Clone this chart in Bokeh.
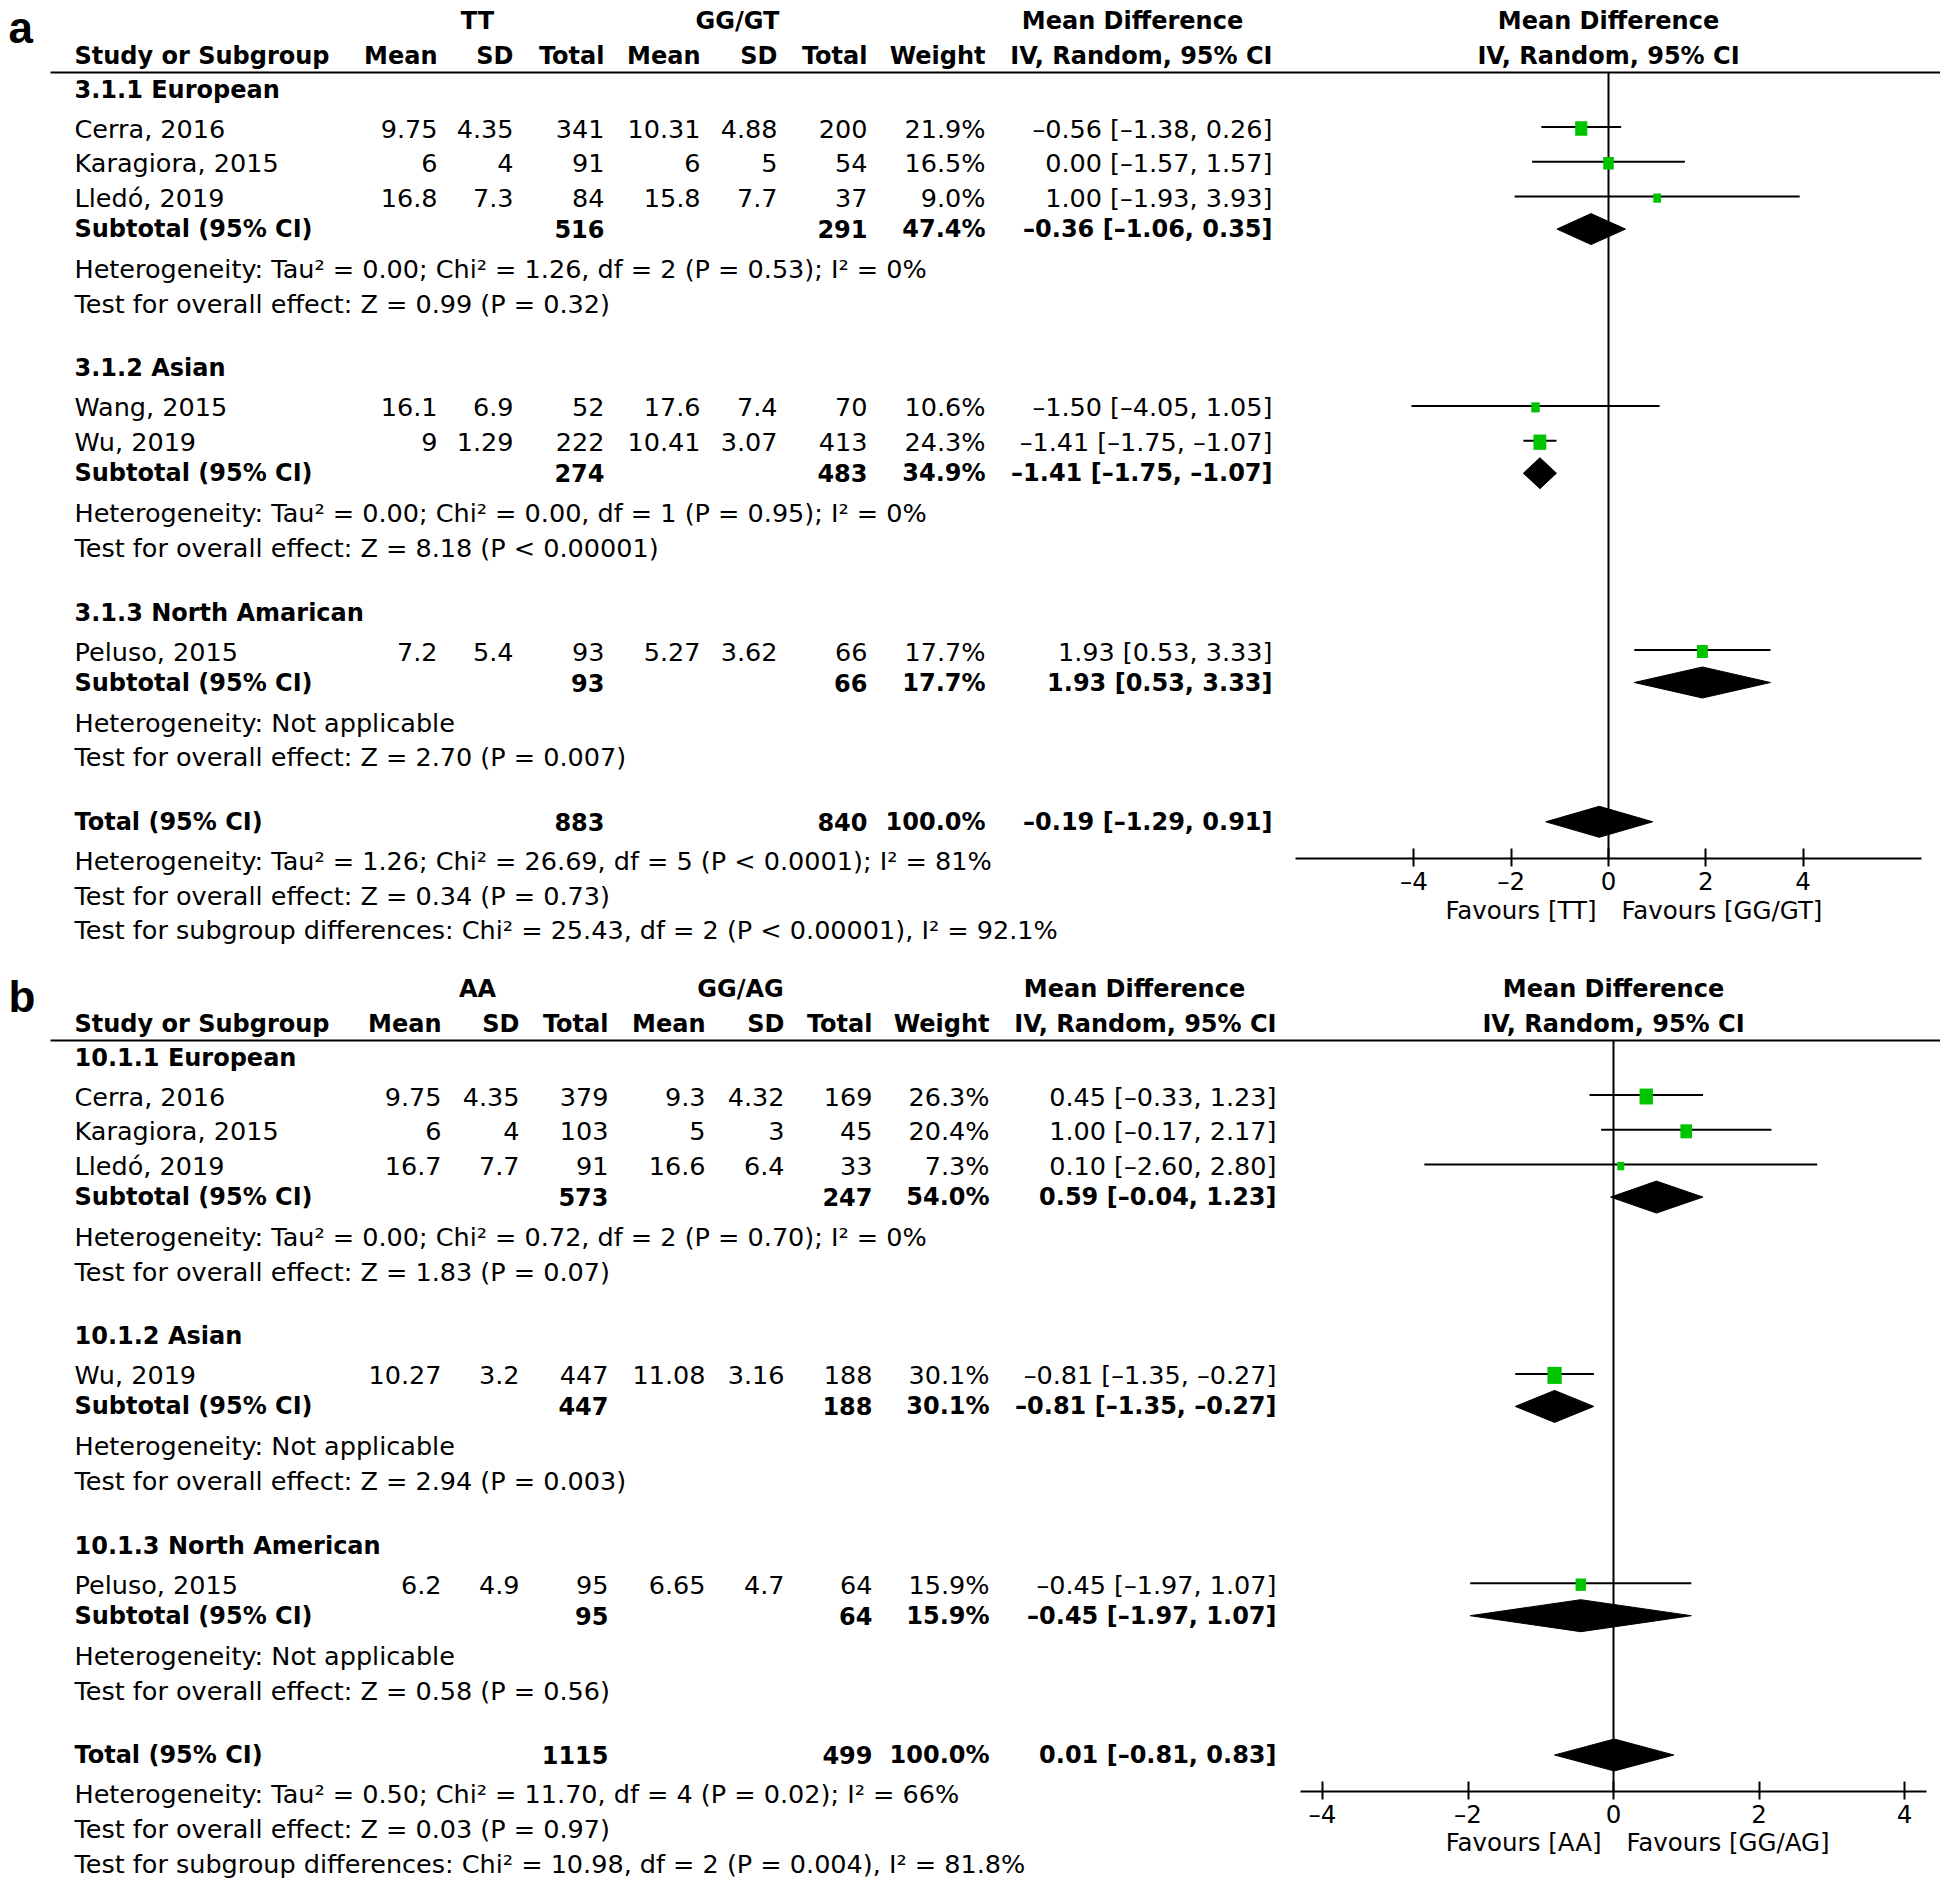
import math
from bokeh.plotting import figure
from bokeh.models import ColumnDataSource, Range1d, FixedTicker, LinearAxis
from bokeh.core.properties import value
from bokeh.embed import file_html
from bokeh.resources import INLINE

# ---------------- data: panel a ----------------
A_LETTER = "a"
A_ARMS = ["TT", "GG/GT"]
A_GROUPS = ["3.1.1 European", "3.1.2 Asian", "3.1.3 North Amarican"]
A_STUDIES = ["Cerra, 2016", "Karagiora, 2015", "Lledó, 2019", "Wang, 2015", "Wu, 2019", "Peluso, 2015"]
A_STUDY_GROUP = [0, 0, 0, 1, 1, 2]
A_MEAN1 = [9.75, 6, 16.8, 16.1, 9, 7.2]
A_SD1 = [4.35, 4, 7.3, 6.9, 1.29, 5.4]
A_N1 = [341, 91, 84, 52, 222, 93]
A_MEAN2 = [10.31, 6, 15.8, 17.6, 10.41, 5.27]
A_SD2 = [4.88, 5, 7.7, 7.4, 3.07, 3.62]
A_N2 = [200, 54, 37, 70, 413, 66]
A_WEIGHT = [21.9, 16.5, 9.0, 10.6, 24.3, 17.7]
A_MD = [-0.56, 0.00, 1.00, -1.50, -1.41, 1.93]
A_LO = [-1.38, -1.57, -1.93, -4.05, -1.75, 0.53]
A_HI = [0.26, 1.57, 3.93, 1.05, -1.07, 3.33]
A_SUB_N1 = [516, 274, 93]
A_SUB_N2 = [291, 483, 66]
A_SUB_W = [47.4, 34.9, 17.7]
A_SUB_MD = [-0.36, -1.41, 1.93]
A_SUB_LO = [-1.06, -1.75, 0.53]
A_SUB_HI = [0.35, -1.07, 3.33]
A_SUB_HET = ["Heterogeneity: Tau² = 0.00; Chi² = 1.26, df = 2 (P = 0.53); I² = 0%",
             "Heterogeneity: Tau² = 0.00; Chi² = 0.00, df = 1 (P = 0.95); I² = 0%",
             "Heterogeneity: Not applicable"]
A_SUB_TEST = ["Test for overall effect: Z = 0.99 (P = 0.32)",
              "Test for overall effect: Z = 8.18 (P < 0.00001)",
              "Test for overall effect: Z = 2.70 (P = 0.007)"]
A_TOT_N1 = 883
A_TOT_N2 = 840
A_TOT_W = 100.0
A_TOT_MD = -0.19
A_TOT_LO = -1.29
A_TOT_HI = 0.91
A_TOT_NOTES = ["Heterogeneity: Tau² = 1.26; Chi² = 26.69, df = 5 (P < 0.0001); I² = 81%",
               "Test for overall effect: Z = 0.34 (P = 0.73)",
               "Test for subgroup differences: Chi² = 25.43, df = 2 (P < 0.00001), I² = 92.1%"]
A_FAVOURS = ["Favours [TT]", "Favours [GG/GT]"]

# ---------------- data: panel b ----------------
B_LETTER = "b"
B_ARMS = ["AA", "GG/AG"]
B_GROUPS = ["10.1.1 European", "10.1.2 Asian", "10.1.3 North American"]
B_STUDIES = ["Cerra, 2016", "Karagiora, 2015", "Lledó, 2019", "Wu, 2019", "Peluso, 2015"]
B_STUDY_GROUP = [0, 0, 0, 1, 2]
B_MEAN1 = [9.75, 6, 16.7, 10.27, 6.2]
B_SD1 = [4.35, 4, 7.7, 3.2, 4.9]
B_N1 = [379, 103, 91, 447, 95]
B_MEAN2 = [9.3, 5, 16.6, 11.08, 6.65]
B_SD2 = [4.32, 3, 6.4, 3.16, 4.7]
B_N2 = [169, 45, 33, 188, 64]
B_WEIGHT = [26.3, 20.4, 7.3, 30.1, 15.9]
B_MD = [0.45, 1.00, 0.10, -0.81, -0.45]
B_LO = [-0.33, -0.17, -2.60, -1.35, -1.97]
B_HI = [1.23, 2.17, 2.80, -0.27, 1.07]
B_SUB_N1 = [573, 447, 95]
B_SUB_N2 = [247, 188, 64]
B_SUB_W = [54.0, 30.1, 15.9]
B_SUB_MD = [0.59, -0.81, -0.45]
B_SUB_LO = [-0.04, -1.35, -1.97]
B_SUB_HI = [1.23, -0.27, 1.07]
B_SUB_HET = ["Heterogeneity: Tau² = 0.00; Chi² = 0.72, df = 2 (P = 0.70); I² = 0%",
             "Heterogeneity: Not applicable",
             "Heterogeneity: Not applicable"]
B_SUB_TEST = ["Test for overall effect: Z = 1.83 (P = 0.07)",
              "Test for overall effect: Z = 2.94 (P = 0.003)",
              "Test for overall effect: Z = 0.58 (P = 0.56)"]
B_TOT_N1 = 1115
B_TOT_N2 = 499
B_TOT_W = 100.0
B_TOT_MD = 0.01
B_TOT_LO = -0.81
B_TOT_HI = 0.83
B_TOT_NOTES = ["Heterogeneity: Tau² = 0.50; Chi² = 11.70, df = 4 (P = 0.02); I² = 66%",
               "Test for overall effect: Z = 0.03 (P = 0.97)",
               "Test for subgroup differences: Chi² = 10.98, df = 2 (P = 0.004), I² = 81.8%"]
B_FAVOURS = ["Favours [AA]", "Favours [GG/AG]"]

TICKS = [-4, -2, 0, 2, 4]
COL_HEADS = ["Mean", "SD", "Total", "Mean", "SD", "Total", "Weight", "IV, Random, 95% CI"]
MD_HEAD = ["Mean Difference", "IV, Random, 95% CI"]

# ---------------- style ----------------
FONT = "DejaVu Sans"
FS_REG = "25.5px"
FS_BOLD = "24px"
FS_AXIS = "24.5px"
DASH = "\u2013"
GREEN = "#00c400"
W, H = 1940, 1880


def num(v):
    return f"{v:g}".replace("-", DASH)


def ci(md, lo, hi):
    return f"{md:.2f} [{lo:.2f}, {hi:.2f}]".replace("-", DASH)


def pct(w):
    return f"{w:.1f}%"


p = figure(width=W, height=H, x_range=Range1d(0, W), y_range=Range1d(H, 0),
           x_axis_location=None, y_axis_location=None, toolbar_location=None,
           output_backend="svg", min_border=0, outline_line_color=None)
p.grid.visible = False


def panel(p, d, L, rn):
    p.extra_x_ranges[rn] = Range1d((0 - L["x_zero"]) / L["unit"], (W - L["x_zero"]) / L["unit"])

    T = {k: dict(x=[], y=[], text=[]) for k in ("lr", "rr", "lb", "rb", "cb")}

    def put(k, x, y, s):
        T[k]["x"].append(x)
        T[k]["y"].append(y)
        T[k]["text"].append(s)

    cols = L["cols"]
    left = L["left"]
    hdr1 = L["top"]
    hdr2 = hdr1 + 35
    line_y = hdr1 + 52
    put("cb", L["hc"][0], hdr1, d["arms"][0])
    put("cb", L["hc"][1], hdr1, d["arms"][1])
    put("cb", L["hc"][2], hdr1, MD_HEAD[0])
    put("lb", left, hdr2, "Study or Subgroup")
    for x, s in zip(cols, COL_HEADS):
        put("rb", x, hdr2, s)

    wh = dict(x0=[], x1=[], y=[])
    sq = dict(x=[], y=[], w=[], h=[])
    dm = dict(xs=[], ys=[])
    dh = L["diamond_h"]

    def diamond(md, lo, hi, y):
        dm["xs"].append([lo, md, hi, md])
        dm["ys"].append([y, y - dh / 2, y, y + dh / 2])

    gy = line_y + 17
    for g, gname in enumerate(d["groups"]):
        put("lb", left, gy, gname)
        sy = gy + 39
        last = sy
        for i, sg in enumerate(d["sgroup"]):
            if sg != g:
                continue
            put("lr", left, sy, d["studies"][i])
            vals = [num(d["m1"][i]), num(d["s1"][i]), str(d["n1"][i]),
                    num(d["m2"][i]), num(d["s2"][i]), str(d["n2"][i]),
                    pct(d["w"][i]), ci(d["md"][i], d["lo"][i], d["hi"][i])]
            for x, s in zip(cols, vals):
                put("rr", x, sy, s)
            wh["x0"].append(d["lo"][i])
            wh["x1"].append(d["hi"][i])
            wh["y"].append(sy - 1.5)
            sq["x"].append(d["md"][i])
            sq["y"].append(sy)
            sq["w"].append(L["box_w"] * math.sqrt(d["w"][i]))
            sq["h"].append(L["box_h"] * math.sqrt(d["w"][i]))
            last = sy
            sy += 34.8
        sub_y = last + 31
        put("lb", left, sub_y, "Subtotal (95% CI)")
        put("rb", cols[2], sub_y, str(d["sub_n1"][g]))
        put("rb", cols[5], sub_y, str(d["sub_n2"][g]))
        put("rb", cols[6], sub_y, pct(d["sub_w"][g]))
        put("rb", cols[7], sub_y, ci(d["sub_md"][g], d["sub_lo"][g], d["sub_hi"][g]))
        diamond(d["sub_md"][g], d["sub_lo"][g], d["sub_hi"][g], sub_y)
        het_y = sub_y + 40
        put("lr", left, het_y, d["sub_het"][g])
        test_y = het_y + 34.8
        put("lr", left, test_y, d["sub_test"][g])
        gy = test_y + 64.5

    tot_y = gy
    put("lb", left, tot_y, "Total (95% CI)")
    put("rb", cols[2], tot_y, str(d["tot_n1"]))
    put("rb", cols[5], tot_y, str(d["tot_n2"]))
    put("rb", cols[6], tot_y, pct(d["tot_w"]))
    put("rb", cols[7], tot_y, ci(d["tot_md"], d["tot_lo"], d["tot_hi"]))
    diamond(d["tot_md"], d["tot_lo"], d["tot_hi"], tot_y)
    ny = tot_y + 39
    for s in d["tot_notes"]:
        put("lr", left, ny, s)
        ny += 34.8

    # header rule across the whole panel
    p.segment(x0=[L["line_x0"]], x1=[W], y0=[line_y], y1=[line_y],
              line_color="black", line_width=2)
    styles = {"lr": ("left", "normal", FS_REG), "rr": ("right", "normal", FS_REG),
              "lb": ("left", "bold", FS_BOLD), "rb": ("right", "bold", FS_BOLD),
              "cb": ("center", "bold", FS_BOLD)}
    for k, (al, st, fs) in styles.items():
        p.text(x="x", y="y", text="text", source=ColumnDataSource(T[k]),
               text_align=al, text_baseline="middle", text_font=value(FONT),
               text_font_size=fs, text_font_style=st, text_color="black")
    p.text(x=[L["letter_x"]], y=[L["letter_y"]], text=[d["letter"]], text_align="left",
           text_baseline="middle", text_font=value("Liberation Sans"),
           text_font_size="44px", text_font_style="bold", text_color="black")

    # forest part (mean-difference scale)
    p.text(x=[0, 0], y=[hdr1, hdr2], text=MD_HEAD, x_range_name=rn,
           text_align="center", text_baseline="middle", text_font=value(FONT),
           text_font_size=FS_BOLD, text_font_style="bold", text_color="black")
    p.segment(x0=[0], x1=[0], y0=[line_y], y1=[L["axis_y"]], x_range_name=rn,
              line_color="black", line_width=2)
    p.segment(x0="x0", x1="x1", y0="y", y1="y", source=ColumnDataSource(wh),
              x_range_name=rn, line_color="black", line_width=2)
    p.rect(x="x", y="y", width="w", height="h", width_units="screen",
           height_units="screen", source=ColumnDataSource(sq), x_range_name=rn,
           fill_color=GREEN, line_color=None)
    p.patches(xs="xs", ys="ys", source=ColumnDataSource(dm), x_range_name=rn,
              fill_color="black", line_color="black", line_width=1)

    ax = LinearAxis(x_range_name=rn, fixed_location=L["axis_y"],
                    ticker=FixedTicker(ticks=TICKS), bounds=L["bounds"])
    ax.major_label_overrides = {tk: num(tk) for tk in TICKS}
    ax.axis_line_width = 2
    ax.axis_line_color = "black"
    ax.major_tick_line_width = 2
    ax.major_tick_line_color = "black"
    ax.major_tick_in = 10
    ax.major_tick_out = 8
    ax.minor_tick_line_color = None
    ax.major_label_text_font = FONT
    ax.major_label_text_font_size = FS_AXIS
    ax.major_label_text_color = "black"
    ax.major_label_standoff = 0
    p.add_layout(ax, "below")

    p.text(x=[0], y=[L["fav_y"]], text=[d["fav"][0]], x_offset=-12, x_range_name=rn,
           text_align="right", text_baseline="middle", text_font=value(FONT),
           text_font_size=FS_AXIS, text_color="black")
    p.text(x=[0], y=[L["fav_y"]], text=[d["fav"][1]], x_offset=13, x_range_name=rn,
           text_align="left", text_baseline="middle", text_font=value(FONT),
           text_font_size=FS_AXIS, text_color="black")


DA = dict(letter=A_LETTER, arms=A_ARMS, groups=A_GROUPS, studies=A_STUDIES,
          sgroup=A_STUDY_GROUP, m1=A_MEAN1, s1=A_SD1, n1=A_N1, m2=A_MEAN2, s2=A_SD2,
          n2=A_N2, w=A_WEIGHT, md=A_MD, lo=A_LO, hi=A_HI, sub_n1=A_SUB_N1,
          sub_n2=A_SUB_N2, sub_w=A_SUB_W, sub_md=A_SUB_MD, sub_lo=A_SUB_LO,
          sub_hi=A_SUB_HI, sub_het=A_SUB_HET, sub_test=A_SUB_TEST, tot_n1=A_TOT_N1,
          tot_n2=A_TOT_N2, tot_w=A_TOT_W, tot_md=A_TOT_MD, tot_lo=A_TOT_LO,
          tot_hi=A_TOT_HI, tot_notes=A_TOT_NOTES, fav=A_FAVOURS)
DB = dict(letter=B_LETTER, arms=B_ARMS, groups=B_GROUPS, studies=B_STUDIES,
          sgroup=B_STUDY_GROUP, m1=B_MEAN1, s1=B_SD1, n1=B_N1, m2=B_MEAN2, s2=B_SD2,
          n2=B_N2, w=B_WEIGHT, md=B_MD, lo=B_LO, hi=B_HI, sub_n1=B_SUB_N1,
          sub_n2=B_SUB_N2, sub_w=B_SUB_W, sub_md=B_SUB_MD, sub_lo=B_SUB_LO,
          sub_hi=B_SUB_HI, sub_het=B_SUB_HET, sub_test=B_SUB_TEST, tot_n1=B_TOT_N1,
          tot_n2=B_TOT_N2, tot_w=B_TOT_W, tot_md=B_TOT_MD, tot_lo=B_TOT_LO,
          tot_hi=B_TOT_HI, tot_notes=B_TOT_NOTES, fav=B_FAVOURS)

LA = dict(top=20, left=74, cols=[437, 513, 604, 700, 777, 867, 985, 1272],
          hc=[477, 737, 1132], axis_y=858, x_zero=1608, unit=48.65,
          bounds=(-6.43, 6.43), fav_y=910, letter_x=8, letter_y=27, line_x0=50,
          diamond_h=31, box_w=2.6, box_h=3.1)
LB = dict(top=988, left=74, cols=[441, 519, 608, 705, 784, 872, 989, 1276],
          hc=[477, 740, 1134], axis_y=1791, x_zero=1613, unit=72.75,
          bounds=(-4.3, 4.3), fav_y=1842, letter_x=8, letter_y=996, line_x0=50,
          diamond_h=32, box_w=2.6, box_h=3.1)

panel(p, DA, LA, "mda")
panel(p, DB, LB, "mdb")

with open("out.html", "w") as fh:
    fh.write(file_html(p, INLINE))
